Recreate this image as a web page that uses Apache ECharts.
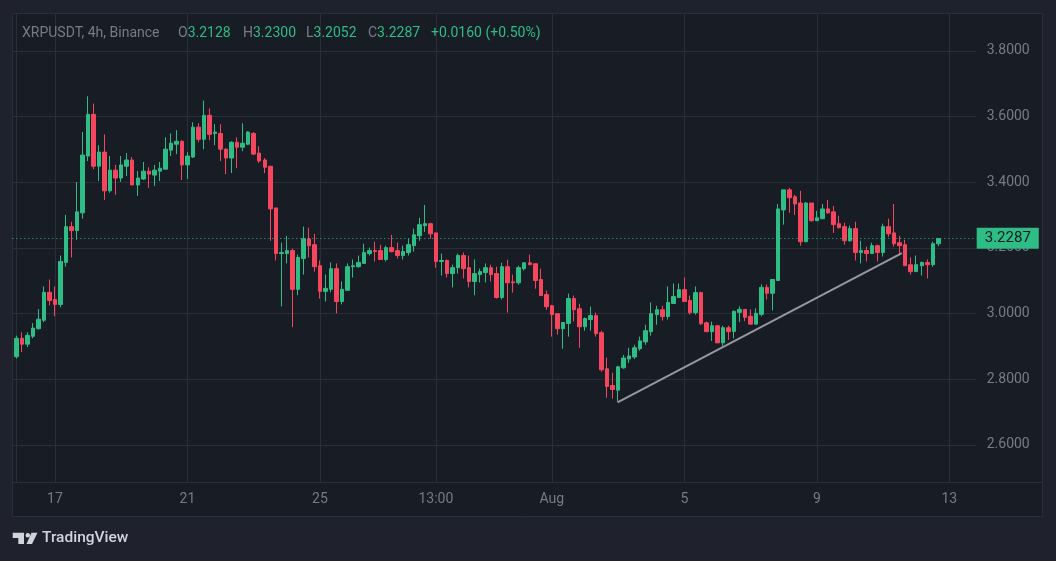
<!DOCTYPE html>
<html><head><meta charset="utf-8">
<script src="https://cdn.jsdelivr.net/npm/echarts@6/dist/echarts.min.js"></script>
<style>html,body{margin:0;padding:0;background:#1f222d;}#c{width:1056px;height:561px;}</style>
</head><body><div id="c"></div>
<script>
// ---- data (4h candles, Jul 15 20:00 .. Aug 12 16:00) ----
const opens = [2.869,2.925,2.907,2.931,2.954,2.980,3.065,3.043,3.028,3.156,3.265,3.253,3.307,3.480,3.607,3.449,3.492,3.374,3.437,3.413,
3.449,3.468,3.392,3.410,3.434,3.422,3.434,3.440,3.498,3.516,3.525,3.453,3.477,3.568,3.531,3.604,3.549,3.549,3.501,3.474,
3.522,3.507,3.516,3.549,3.489,3.468,3.449,3.322,3.183,3.183,3.192,3.074,3.168,3.228,3.210,3.146,3.068,3.074,3.137,3.037,
3.071,3.143,3.143,3.153,3.183,3.192,3.192,3.165,3.201,3.192,3.177,3.186,3.207,3.237,3.268,3.274,3.246,3.159,3.162,3.122,
3.140,3.177,3.140,3.098,3.119,3.125,3.140,3.122,3.049,3.143,3.097,3.094,3.137,3.155,3.152,3.104,3.058,3.024,3.000,2.954,
2.970,3.046,3.015,2.960,2.982,2.994,2.942,2.832,2.781,2.767,2.835,2.862,2.868,2.893,2.914,2.945,2.997,3.012,2.991,3.031,
3.049,3.073,3.040,3.003,3.064,2.972,2.945,2.963,2.911,2.957,2.946,3.004,3.013,2.992,2.968,2.998,3.080,3.062,3.101,3.316,
3.377,3.356,3.337,3.219,3.337,3.283,3.289,3.319,3.310,3.274,3.265,3.222,3.259,3.186,3.192,3.183,3.207,3.186,3.265,3.246,
3.216,3.210,3.149,3.128,3.146,3.156,3.149,3.2128];
const highs = [2.933,2.943,2.943,2.971,3.014,3.083,3.104,3.083,3.177,3.301,3.280,3.401,3.553,3.662,3.640,3.513,3.546,3.480,3.453,3.480,
3.489,3.477,3.434,3.462,3.446,3.453,3.462,3.537,3.549,3.559,3.528,3.492,3.583,3.580,3.649,3.625,3.577,3.577,3.504,3.525,
3.537,3.580,3.556,3.553,3.510,3.474,3.449,3.322,3.216,3.237,3.198,3.180,3.265,3.262,3.243,3.162,3.119,3.156,3.153,3.098,
3.153,3.165,3.177,3.213,3.201,3.219,3.210,3.207,3.240,3.216,3.207,3.228,3.259,3.292,3.331,3.277,3.246,3.183,3.165,3.149,
3.183,3.186,3.177,3.165,3.137,3.153,3.149,3.143,3.155,3.164,3.119,3.146,3.155,3.180,3.152,3.137,3.070,3.027,3.000,2.973,
3.061,3.055,3.030,2.988,3.021,3.003,2.948,2.866,2.820,2.841,2.874,2.896,2.905,2.930,2.966,3.034,3.024,3.024,3.083,3.092,
3.092,3.110,3.055,3.083,3.067,2.976,2.976,2.966,2.963,2.963,3.010,3.022,3.013,3.013,3.016,3.089,3.089,3.104,3.334,3.377,
3.383,3.362,3.374,3.340,3.337,3.313,3.334,3.346,3.328,3.298,3.277,3.268,3.280,3.222,3.204,3.216,3.210,3.274,3.289,3.334,
3.237,3.225,3.171,3.177,3.159,3.165,3.219,3.2300];
const lows = [2.863,2.883,2.898,2.925,2.952,2.974,3.025,2.992,3.019,3.143,3.171,3.225,3.289,3.465,3.440,3.404,3.346,3.368,3.362,3.401,
3.419,3.392,3.359,3.407,3.383,3.389,3.404,3.440,3.480,3.486,3.407,3.410,3.474,3.522,3.501,3.528,3.513,3.465,3.425,3.428,
3.443,3.495,3.513,3.483,3.459,3.428,3.222,3.162,3.022,3.153,2.959,3.056,3.119,3.171,3.128,3.046,3.037,3.065,3.001,3.028,
3.071,3.110,3.140,3.153,3.177,3.159,3.165,3.159,3.186,3.168,3.165,3.177,3.189,3.222,3.249,3.228,3.140,3.116,3.110,3.080,
3.122,3.107,3.080,3.056,3.095,3.095,3.098,3.046,3.043,3.003,3.064,3.088,3.131,3.149,3.076,3.055,3.012,2.930,2.936,2.893,
2.930,2.976,2.896,2.948,2.948,2.930,2.823,2.744,2.741,2.731,2.832,2.850,2.862,2.887,2.905,2.933,2.966,2.979,2.982,3.031,
3.049,3.037,2.997,2.997,2.966,2.945,2.917,2.911,2.902,2.920,2.925,2.974,2.977,2.968,2.968,2.992,3.043,3.010,3.101,3.271,
3.307,3.301,3.207,3.219,3.280,3.283,3.289,3.304,3.246,3.259,3.210,3.219,3.162,3.153,3.159,3.183,3.159,3.174,3.234,3.204,
3.180,3.146,3.119,3.128,3.116,3.107,3.143,3.2052];
const closes = [2.925,2.907,2.934,2.956,2.983,3.065,3.040,3.028,3.159,3.265,3.253,3.310,3.483,3.607,3.449,3.492,3.374,3.437,3.413,3.453,
3.468,3.392,3.413,3.434,3.425,3.437,3.443,3.501,3.519,3.525,3.453,3.480,3.568,3.531,3.604,3.546,3.553,3.501,3.474,3.522,
3.507,3.519,3.553,3.486,3.465,3.446,3.319,3.183,3.186,3.192,3.074,3.171,3.228,3.207,3.143,3.068,3.077,3.137,3.037,3.074,
3.143,3.146,3.156,3.186,3.192,3.189,3.165,3.201,3.189,3.177,3.189,3.210,3.240,3.271,3.274,3.243,3.159,3.162,3.122,3.140,
3.177,3.137,3.098,3.122,3.128,3.140,3.119,3.049,3.143,3.094,3.094,3.140,3.155,3.149,3.101,3.055,3.021,2.997,2.954,2.973,
3.046,3.012,2.960,2.985,2.994,2.939,2.829,2.778,2.769,2.838,2.865,2.871,2.896,2.917,2.948,3.000,3.012,2.991,3.034,3.052,
3.073,3.037,3.003,3.064,2.969,2.945,2.963,2.911,2.957,2.945,3.007,3.013,2.989,2.968,3.001,3.080,3.062,3.104,3.319,3.377,
3.353,3.334,3.219,3.337,3.283,3.292,3.319,3.307,3.271,3.262,3.222,3.259,3.186,3.192,3.183,3.207,3.186,3.265,3.243,3.213,
3.207,3.146,3.128,3.149,3.156,3.149,3.213,3.2287];
const xTickIndex = [7, 31, 55, 76, 97, 121, 145, 169];
const xTickLabels = ['17', '21', '25', '13:00', 'Aug', '5', '9', '13'];
const yTicks = [2.6, 2.8, 3.0, 3.2, 3.4, 3.6, 3.8];
const trendLine = [[108.9, 2.730], [160.4, 3.184]];
const lastPrice = 3.2287;
const headerSymbol = 'XRPUSDT, 4h, Binance';
const headerO = '3.2128', headerH = '3.2300', headerL = '3.2052', headerC = '3.2287';
const headerChange = '+0.0160 (+0.50%)';

// ---- chart ----
const UP = '#2ebd85', DOWN = '#f6465d', GRID = '#2a2e39', TXT = '#787b86';
const FONT = 'Roboto';
const HFS = 14;
const candleData = opens.map((o, i) => [i, o, closes[i], lows[i], highs[i]]);

const chart = echarts.init(document.getElementById('c'), null, {renderer: 'canvas'});
const hdr = (x, label, value) => ({
  type: 'text', left: x, top: 26, z: 10,
  style: {
    text: '{l|' + label + '}{v|' + value + '}',
    rich: {
      l: {fill: TXT, fontSize: HFS, fontFamily: FONT},
      v: {fill: UP, fontSize: HFS, fontFamily: FONT}
    }
  }
});
chart.setOption({
  backgroundColor: '#1f222d',
  animation: false,
  grid: {left: 12.3, right: 1056 - 976.7, top: 13.3, bottom: 561 - 482.3},
  xAxis: {
    type: 'value', min: -0.7245, max: 173.95,
    axisLine: {show: true, lineStyle: {color: GRID}},
    axisTick: {show: false, customValues: xTickIndex},
    axisLabel: {
      customValues: xTickIndex,
      formatter: v => xTickLabels[xTickIndex.indexOf(Math.round(v))],
      color: TXT, fontSize: 14, fontFamily: FONT, margin: 10
    },
    splitLine: {show: true, lineStyle: {color: GRID, width: 1}}
  },
  yAxis: {
    type: 'value', position: 'right', min: 2.4863, max: 3.9148,
    axisLine: {show: true, lineStyle: {color: GRID}},
    axisTick: {show: false, customValues: yTicks},
    axisLabel: {
      customValues: yTicks,
      formatter: v => v.toFixed(4),
      color: TXT, fontSize: 14, fontFamily: FONT, margin: 10
    },
    splitLine: {show: true, lineStyle: {color: GRID, width: 1}}
  },
  graphic: [
    {type: 'rect', z: -100, shape: {x: 12.5, y: 13.5, width: 1030, height: 503}, style: {fill: '#181c25', stroke: GRID, lineWidth: 1}},
    {type: 'line', z: -50, shape: {x1: 12.5, y1: 482.5, x2: 1042.5, y2: 482.5}, style: {stroke: GRID, lineWidth: 1}},
    {type: 'text', left: 22, top: 26, z: 10, style: {text: headerSymbol, fill: TXT, fontSize: HFS, fontFamily: FONT}},
    hdr(178, 'O', headerO),
    hdr(243, 'H', headerH),
    hdr(306, 'L', headerL),
    hdr(368, 'C', headerC),
    {type: 'text', left: 431, top: 26, z: 10, style: {text: headerChange, fill: UP, fontSize: HFS, fontFamily: FONT}},
    // TradingView logo
    {type: 'polygon', z: 10, shape: {points: [[12.7, 532.7], [24, 532.7], [24, 544], [18.3, 544], [18.3, 538], [12.7, 538]]}, style: {fill: '#d1d4dc'}},
    {type: 'circle', z: 10, shape: {cx: 27.8, cy: 535.3, r: 2.3}, style: {fill: '#d1d4dc'}},
    {type: 'polygon', z: 10, shape: {points: [[31.5, 532.7], [37.5, 532.7], [32, 544], [26.5, 544]]}, style: {fill: '#d1d4dc'}},
    {type: 'text', left: 42, top: 530, z: 10, style: {text: 'TradingView', fill: '#d1d4dc', fontSize: 15.5, fontWeight: 500, fontFamily: FONT}}
  ],
  series: [{
    type: 'candlestick',
    data: candleData,
    barWidth: 4,
    itemStyle: {color: UP, color0: DOWN, borderColor: UP, borderColor0: DOWN, borderWidth: 1},
    markLine: {
      silent: true, animation: false, symbol: ['none', 'none'],
      data: [
        {
          yAxis: lastPrice,
          lineStyle: {color: UP, type: [1, 3], width: 1},
          label: {
            show: true, position: 'end', distance: 0,
            formatter: () => lastPrice.toFixed(4),
            backgroundColor: UP, color: '#131722', fontSize: 15, fontFamily: FONT,
            padding: [3, 8, 2, 8], lineHeight: 16
          }
        },
        [
          {coord: trendLine[0], lineStyle: {color: '#9598a1', width: 2, type: 'solid'}, label: {show: false}},
          {coord: trendLine[1]}
        ]
      ]
    }
  }]
});
</script></body></html>
